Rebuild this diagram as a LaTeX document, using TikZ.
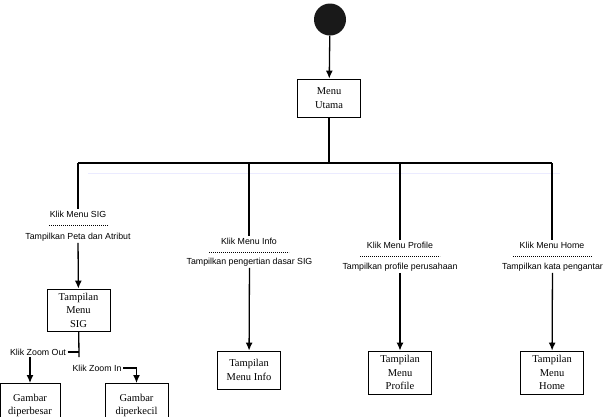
\documentclass[tikz,border=0pt]{standalone}
\usepackage{fontspec}
\setmainfont{Liberation Serif}
\newfontfamily\labelfont{Liberation Sans}
\usetikzlibrary{arrows.meta}
\tikzset{
  box/.style={draw, line width=0.8pt, minimum width=63pt, align=center,
    font=\fontsize{10.5}{13.5}\selectfont, inner sep=2pt},
  klik/.style={font=\labelfont\fontsize{8.8}{10}\selectfont, inner sep=1.5pt},
  sep/.style={dash pattern=on 1.2pt off 0.8pt, line width=0.5pt},
  flow/.style={line width=1.3pt}
}
\begin{document}
\begin{tikzpicture}[x=1pt, y=-1pt, >={Latex[length=8pt,width=7pt]}]
\useasboundingbox (0,0) rectangle (608,416);
\clip (0,0) rectangle (608,416);
\node[circle, fill=black!90, minimum size=32pt, inner sep=0pt] (start) at (330,19.5) {};
\node[box, minimum height=38pt] (utama) at (329,98) {Menu\\Utama};
\draw[flow, ->] (start) -- (utama);

\coordinate (bsig) at (78,163);
\coordinate (binfo) at (249,163);
\coordinate (bprofile) at (400,163);
\coordinate (bhome) at (552,163);
\draw[flow] (utama) -- (utama |- bsig);
\draw[flow] (bsig) -- (bhome);
\draw[blue!8, line width=1pt] (88,173) -- (560,173);

\node[klik] (sigklik) at (78,214) {Klik Menu SIG};
\node[klik] (sigtamp) at (78,237) {Tampilkan Peta dan Atribut};
\draw[sep] (49,225) -- (108,225);
\node[box, minimum height=42pt] (sig) at (78.5,310) {Tampilan\\Menu\\SIG};
\draw[flow] (bsig) -- (sigklik);
\draw[flow, ->] (sigtamp) -- (sig);

\node[klik] (infoklik) at (249,241) {Klik Menu Info};
\node[klik] (infotamp) at (249.5,262) {Tampilkan pengertian dasar SIG};
\draw[sep] (209,252) -- (289,252);
\node[box, minimum height=38pt] (info) at (249,370) {Tampilan\\Menu Info};
\draw[flow] (binfo) -- (infoklik);
\draw[flow, ->] (infotamp) -- (info);

\node[klik] (profileklik) at (400,245) {Klik Menu Profile};
\node[klik] (profiletamp) at (400,267) {Tampilkan profile perusahaan};
\draw[sep] (360,256) -- (440,256);
\node[box, minimum height=43pt] (profile) at (400,372.5) {Tampilan\\Menu\\Profile};
\draw[flow] (bprofile) -- (profileklik);
\draw[flow, ->] (profiletamp) -- (profile);

\node[klik] (homeklik) at (552,245) {Klik Menu Home};
\node[klik] (hometamp) at (552.5,267) {Tampilkan kata pengantar};
\draw[sep] (513,256) -- (592,256);
\node[box, minimum height=43pt] (home) at (552,372.5) {Tampilan\\Menu\\Home};
\draw[flow] (bhome) -- (homeklik);
\draw[flow, ->] (hometamp) -- (home);

\coordinate (zoomfork) at (79,357);
\node[klik] (zoomout) at (38,352) {Klik Zoom Out};
\node[klik] (zoomin) at (97,368) {Klik Zoom In};
\node[box, minimum width=60pt, minimum height=44pt, anchor=north] (besar) at (30,383) {Gambar\\diperbesar};
\node[box, minimum height=44pt, anchor=north] (kecil) at (136.5,383) {Gambar\\diperkecil};
\draw[flow] (sig) -- (zoomfork);
\draw[flow] (zoomout.east) -- (zoomout.east -| zoomfork);
\draw[flow, ->] (zoomout.south -| besar.north) -- (besar.north);
\draw[flow, ->] (zoomin.east) -| (kecil.north);
\end{tikzpicture}
\end{document}
